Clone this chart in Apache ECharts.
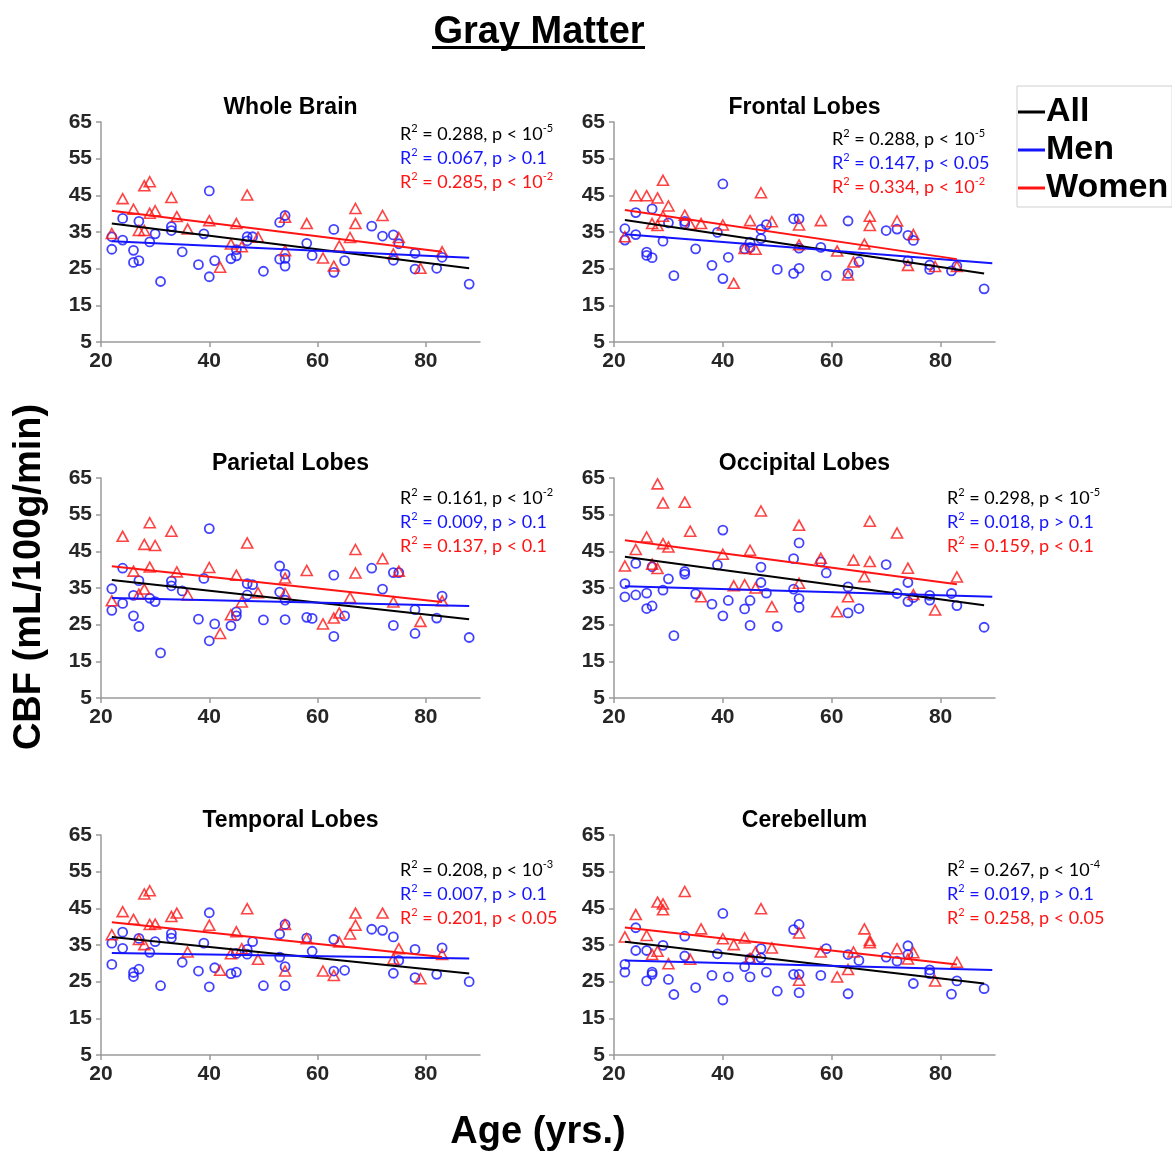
<!DOCTYPE html>
<html>
<head>
<meta charset="utf-8">
<title>Gray Matter CBF vs Age</title>
<script src="https://cdn.jsdelivr.net/npm/echarts@6/dist/echarts.min.js"></script>
<style>
html,body{margin:0;padding:0;background:#fff;}
#main{width:1172px;height:1154px;}
</style>
</head>
<body>
<div id="main"></div>
<script>
// ages, same subjects in every region
var menAge = [22,22,24,24,26,26,27,27,29,30,31,33,33,35,38,39,40,40,41,44,45,45,47,47,48,50,53,53,54,54,54,58,59,63,63,65,70,72,74,74,75,78,78,82,83,88];
var womenAge = [22,24,26,27,28,28,29,29,30,33,34,36,40,42,44,45,46,47,49,54,54,58,61,63,64,66,67,67,72,74,75,79,83];

// CBF values (mL/100g/min)
var wbMen = [33.7,30.3,38.7,32.8,30.0,26.7,37.9,27.2,32.3,34.5,21.5,36.5,35.4,29.6,26.1,34.5,46.2,22.8,27.2,27.7,28.5,30.2,33.7,32.6,33.7,24.3,37.6,27.6,39.5,27.8,25.7,31.9,28.6,35.7,24.0,27.2,36.6,33.9,34.2,27.3,31.8,29.2,24.9,25.1,28.1,20.8];
var wbWomen = [34.6,44.1,41.2,35.4,47.6,35.4,48.7,40.1,40.8,44.4,39.2,35.8,38.1,25.4,31.7,37.3,31.0,45.1,33.6,39.0,29.9,37.3,27.9,25.7,31.2,33.5,41.4,37.3,39.5,29.0,33.5,25.1,29.6];
var frMen = [35.9,32.8,40.3,34.3,29.5,28.6,41.3,28.0,32.5,37.5,23.1,37.9,37.2,30.4,25.9,34.9,48.1,22.3,28.1,30.4,32.2,30.8,35.7,33.2,37.0,24.8,38.6,23.7,38.6,30.6,25.1,30.8,23.1,38.0,23.7,26.9,35.4,35.8,34.1,27.1,32.7,26.0,24.8,24.4,25.7,19.5];
var frWomen = [33.7,44.9,44.9,37.3,44.3,36.8,49.1,39.3,42.1,39.6,37.1,37.3,36.9,21.0,30.5,38.1,30.3,45.7,37.8,36.9,31.5,38.1,29.8,23.3,26.8,31.7,39.3,36.8,38.0,25.9,34.3,25.6,25.6];
var paMen = [34.8,28.9,40.4,30.8,33.0,27.4,37.0,24.5,32.2,31.3,17.3,36.9,35.6,34.2,26.5,37.6,51.2,20.6,25.2,24.7,28.5,27.4,36.2,33.1,35.9,26.3,41.0,33.9,38.8,31.7,26.4,27.0,26.7,38.5,21.8,27.4,40.4,34.7,39.2,24.8,39.2,29.1,22.6,26.8,32.8,21.5];
var paWomen = [31.5,49.1,39.6,33.3,46.9,34.7,52.8,40.7,46.6,50.5,39.4,33.1,40.6,22.6,27.7,38.5,31.2,47.3,33.7,37.7,33.5,39.8,25.2,26.8,28.2,32.4,45.5,39.1,43.0,31.2,39.6,25.9,31.5];
var ocMen = [36.2,32.6,41.7,33.1,33.6,29.4,40.8,30.1,34.4,37.5,22.0,39.5,38.8,33.4,30.6,41.3,50.8,27.4,31.6,29.3,31.6,24.8,40.7,36.5,33.6,24.5,43.0,34.7,47.3,32.1,29.7,42.1,39.1,35.3,28.2,29.4,41.4,33.5,36.5,31.3,32.4,33.0,31.7,33.5,30.2,24.3];
var ocWomen = [41.0,45.5,48.9,41.5,63.4,40.3,58.2,47.1,46.2,58.4,50.5,32.6,44.2,35.6,35.9,45.3,35.0,56.0,29.9,52.1,36.3,43.1,28.5,32.6,42.6,38.1,53.2,42.2,50.0,40.4,33.2,29.0,38.0];
var teMen = [35.5,29.7,38.5,34.1,27.5,26.4,36.8,28.4,33.0,35.9,23.9,38.1,36.9,30.3,27.9,35.5,43.8,23.6,28.8,27.2,32.7,27.6,33.8,32.5,35.9,23.9,38.0,31.7,40.6,29.1,23.9,36.9,33.3,36.5,27.9,28.1,39.3,39.0,37.2,27.3,30.8,33.8,26.1,27.0,34.2,25.0];
var teWomen = [37.8,44.1,42.0,36.5,48.9,35.1,49.8,40.6,40.7,42.8,43.7,33.1,40.4,28.1,32.6,38.6,34.0,44.9,31.1,40.6,27.9,36.7,27.9,26.7,35.8,38.0,43.7,40.4,43.7,31.2,34.0,25.8,32.4];
var ceMen = [29.7,27.6,39.7,33.5,33.5,25.2,27.6,27.0,34.9,25.6,21.5,37.4,32.0,23.4,26.7,32.6,43.6,20.0,26.3,29.1,31.3,26.3,34.0,31.5,27.6,22.4,39.2,27.0,40.6,27.0,22.0,26.7,34.0,32.4,21.7,30.8,31.7,30.6,34.8,32.4,24.5,28.2,27.2,21.6,25.2,23.1];
var ceWomen = [37.2,43.3,37.6,32.4,46.7,33.3,46.2,44.6,29.9,49.6,31.1,39.4,36.7,35.1,36.9,31.3,33.1,44.9,34.2,38.3,25.4,33.1,26.3,28.3,33.1,39.4,36.2,35.6,34.0,31.2,32.9,25.2,30.3];

// trend line end points [age, CBF]
var wbAllFit = [[22,37.3],[88,25.1]], wbMenFit = [[22,32.5],[88,28.0]], wbWomenFit = [[22,40.8],[83,29.6]];
var frAllFit = [[22,38.3],[88,23.7]], frMenFit = [[22,34.4],[89.5,26.5]], frWomenFit = [[22,41.0],[83,27.6]];
var paAllFit = [[22,37.2],[88,26.5]], paMenFit = [[22,32.3],[88,30.1]], paWomenFit = [[22,40.9],[83,31.2]];
var ocAllFit = [[22,43.5],[88,30.3]], ocMenFit = [[22,35.5],[89.5,32.6]], ocWomenFit = [[22,48.0],[83,36.0]];
var teAllFit = [[22,37.2],[88,27.2]], teMenFit = [[22,32.8],[88,31.3]], teWomenFit = [[22,41.2],[83,31.7]];
var ceAllFit = [[22,35.9],[88,24.5]], ceMenFit = [[22,30.8],[89.5,28.2]], ceWomenFit = [[22,39.8],[83,29.7]];

// [R2, p text, exponent] for All / Men / Women
var wbStats = [['0.288','p < 10','-5'],['0.067','p > 0.1',''],['0.285','p < 10','-2']];
var frStats = [['0.288','p < 10','-5'],['0.147','p < 0.05',''],['0.334','p < 10','-2']];
var paStats = [['0.161','p < 10','-2'],['0.009','p > 0.1',''],['0.137','p < 0.1','']];
var ocStats = [['0.298','p < 10','-5'],['0.018','p > 0.1',''],['0.159','p < 0.1','']];
var teStats = [['0.208','p < 10','-3'],['0.007','p > 0.1',''],['0.201','p < 0.05','']];
var ceStats = [['0.267','p < 10','-4'],['0.019','p > 0.1',''],['0.258','p < 0.05','']];

var regionNames = ['Whole Brain','Frontal Lobes','Parietal Lobes','Occipital Lobes','Temporal Lobes','Cerebellum'];
var xTicks = [20,40,60,80];
var yTicks = [5,15,25,35,45,55,65];

var panels = [
    {men: wbMen, women: wbWomen, fits: [wbAllFit, wbMenFit, wbWomenFit], stats: wbStats},
    {men: frMen, women: frWomen, fits: [frAllFit, frMenFit, frWomenFit], stats: frStats},
    {men: paMen, women: paWomen, fits: [paAllFit, paMenFit, paWomenFit], stats: paStats},
    {men: ocMen, women: ocWomen, fits: [ocAllFit, ocMenFit, ocWomenFit], stats: ocStats},
    {men: teMen, women: teWomen, fits: [teAllFit, teMenFit, teWomenFit], stats: teStats},
    {men: ceMen, women: ceWomen, fits: [ceAllFit, ceMenFit, ceWomenFit], stats: ceStats}
];

// layout: grid boxes and where the R2 text sits
var gridLeft = [101, 614, 101, 614, 101, 614];
var gridWidth = [379, 381, 379, 381, 379, 381];
var gridTop = [122, 122, 478, 478, 835, 835];
var statLeft = [400, 832, 400, 947, 400, 947];
var statTop = [123, 128, 487, 487, 859, 859];

var BLUE = '#1414ff', RED = '#ff1414', BLACK = '#000';
var lineColors = [BLACK, BLUE, RED];
var lineNames = ['All','Men','Women'];

function pts(ages, vals) {
    return ages.map(function (a, i) { return [a, vals[i]]; });
}

var chart = echarts.init(document.getElementById('main'));

var grids = [], xAxes = [], yAxes = [], series = [];
var titles = [{
    text: 'Gray Matter',
    left: 534,
    textAlign: 'center',
    top: 9,
    textStyle: {fontFamily: 'Liberation Sans', fontWeight: 'bold', fontSize: 38, color: '#000'}
}];

panels.forEach(function (p, i) {
    grids.push({left: gridLeft[i], top: gridTop[i], width: gridWidth[i], height: 220});
    xAxes.push({
        type: 'value', gridIndex: i, min: 20, max: 90,
        axisLine: {lineStyle: {color: '#9a9a9a', width: 1.5}},
        axisTick: {show: true, length: 5, customValues: xTicks, lineStyle: {color: '#9a9a9a', width: 1.5}},
        axisLabel: {customValues: xTicks, margin: 9, fontFamily: 'Liberation Sans', fontWeight: 'bold', fontSize: 21, color: '#262626'},
        splitLine: {show: false}
    });
    yAxes.push({
        type: 'value', gridIndex: i, min: 5, max: 65,
        axisLine: {show: true, lineStyle: {color: '#9a9a9a', width: 1.5}},
        axisTick: {show: true, length: 5, customValues: yTicks, lineStyle: {color: '#9a9a9a', width: 1.5}},
        axisLabel: {customValues: yTicks, margin: 9, fontFamily: 'Liberation Sans', fontWeight: 'bold', fontSize: 21, color: '#262626'},
        splitLine: {show: false}
    });

    series.push({
        type: 'scatter', name: 'men pts', xAxisIndex: i, yAxisIndex: i,
        data: pts(menAge, p.men), symbol: 'circle', symbolSize: 9, silent: true,
        itemStyle: {color: 'rgba(0,0,0,0)', borderColor: BLUE, borderWidth: 1.8}
    });
    series.push({
        type: 'scatter', name: 'women pts', xAxisIndex: i, yAxisIndex: i,
        data: pts(womenAge, p.women), symbol: 'triangle', symbolSize: [11, 10], silent: true,
        itemStyle: {color: 'rgba(0,0,0,0)', borderColor: RED, borderWidth: 1.6}
    });
    p.fits.forEach(function (f, k) {
        series.push({
            type: 'line', name: lineNames[k], xAxisIndex: i, yAxisIndex: i,
            data: f, symbol: 'none', silent: true, z: 3,
            lineStyle: {color: lineColors[k], width: 2},
            itemStyle: {color: lineColors[k]}
        });
    });

    titles.push({
        text: regionNames[i],
        left: gridLeft[i] + gridWidth[i] / 2 - 5,
        textAlign: 'center',
        top: gridTop[i] - 31,
        textStyle: {fontFamily: 'Liberation Sans', fontWeight: 'bold', fontSize: 23, color: '#000'}
    });
    p.stats.forEach(function (s, k) {
        var txt = '{t|R}{s|2}{t| = ' + s[0] + ', ' + s[1] + '}' + (s[2] ? '{s|' + s[2] + '}' : '');
        titles.push({
            text: txt,
            left: statLeft[i],
            top: statTop[i] + k * 24,
            padding: 0,
            textStyle: {
                fontWeight: 'normal',
                rich: {
                    t: {fontFamily: 'Lato', fontWeight: 'normal', fontSize: 18, color: lineColors[k], lineHeight: 20, verticalAlign: 'bottom'},
                    s: {fontFamily: 'Lato', fontWeight: 'normal', fontSize: 11, color: lineColors[k], lineHeight: 20, verticalAlign: 'top'}
                }
            }
        });
    });
});

var option = {
    animation: false,
    backgroundColor: '#fff',
    title: titles,
    grid: grids,
    xAxis: xAxes,
    yAxis: yAxes,
    legend: {
        data: ['All','Men','Women'],
        orient: 'vertical',
        left: 1017, top: 86,
        icon: 'rect', itemWidth: 27, itemHeight: 3, itemGap: 4,
        selectedMode: false,
        padding: [9, 4, 2, 1],
        borderColor: '#cfcfcf', borderWidth: 1,
        textStyle: {fontFamily: 'Liberation Sans', fontWeight: 'bold', fontSize: 34, color: '#000', padding: [0, 0, 0, -4]}
    },
    graphic: [
        {type: 'rect', left: 432, top: 46, shape: {width: 213, height: 3}, style: {fill: '#000'}},
        {type: 'text', left: 11, top: 'middle', rotation: Math.PI / 2,
         style: {text: 'CBF (mL/100g/min)', font: 'bold 38px "Liberation Sans"', fill: '#000'}},
        {type: 'text', x: 538, y: 1114,
         style: {text: 'Age (yrs.)', font: 'bold 38px "Liberation Sans"', fill: '#000', align: 'center'}}
    ],
    series: series
};

chart.setOption(option);
</script>
</body>
</html>
